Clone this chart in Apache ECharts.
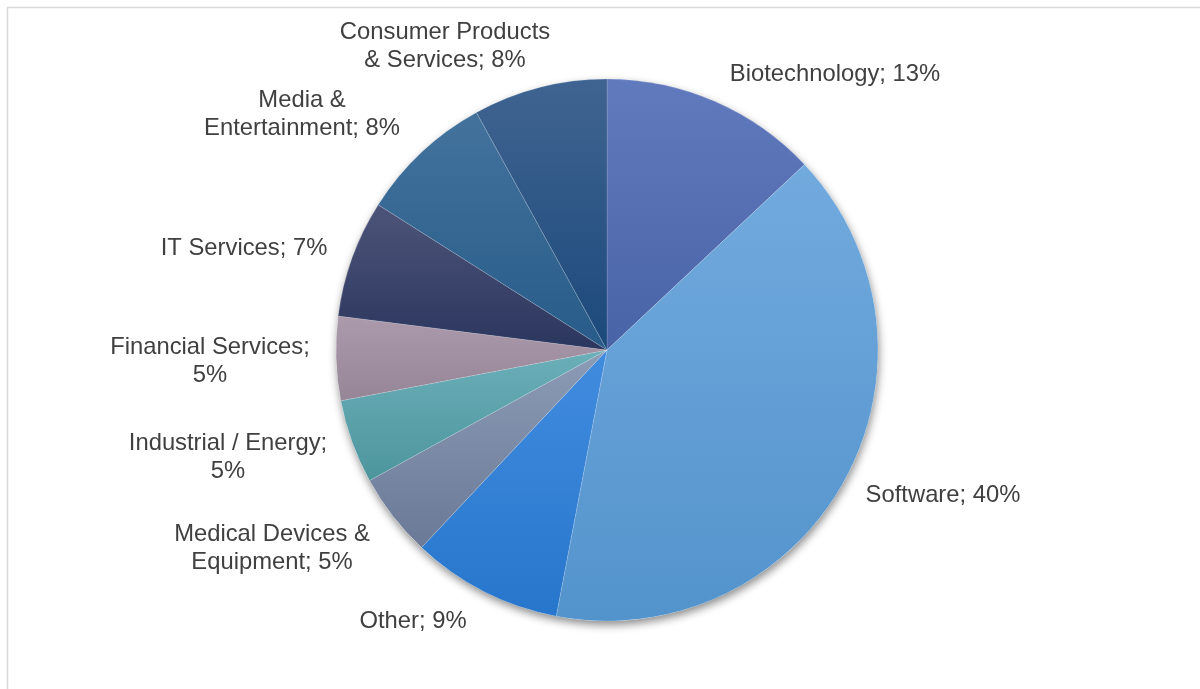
<!DOCTYPE html>
<html>
<head>
<meta charset="utf-8">
<script src="https://cdn.jsdelivr.net/npm/echarts@6/dist/echarts.min.js"></script>
<style>
  html, body { margin: 0; padding: 0; background: #fff; }
  #chart { width: 1200px; height: 689px; }
</style>
</head>
<body>
<div id="chart"></div>
<script>
// Sector breakdown, clockwise from 12 o'clock
const categories = [
  'Biotechnology', 'Software', 'Other', 'Medical Devices &\nEquipment',
  'Industrial / Energy;\n5%', 'Financial Services;\n5%', 'IT Services',
  'Media &\nEntertainment', 'Consumer Products\n& Services'
];
const shares = [13, 40, 9, 5, 5, 5, 7, 8, 8];

// Slice gradients (top colour, bottom colour)
const sliceColors = [
  ['#617abd', '#4963a7'],
  ['#72aade', '#5393cc'],
  ['#428cdf', '#2676cc'],
  ['#8c9cb6', '#6a7996'],
  ['#6bafb9', '#4d959d'],
  ['#aa9aab', '#958597'],
  ['#4d5479', '#2b365e'],
  ['#43739d', '#285b89'],
  ['#406491', '#1b497b']
];

// Label anchor points (centre of each text block)
const labelAnchors = [
  [835, 74], [943, 495], [413, 621], [272, 548], [228, 457],
  [210, 361], [244, 248], [302, 114], [445, 46]
];

function labelText(i) {
  const name = categories[i];
  // Two names already carry their value in the wrapped text
  if (name.indexOf('%') >= 0) return name;
  return name + '; ' + shares[i] + '%';
}

const chart = echarts.init(document.getElementById('chart'), null, { renderer: 'canvas' });

const pieCenter = [607, 350];
const pieRadius = 271;

chart.setOption({
  backgroundColor: '#ffffff',
  animation: false,
  graphic: [{
    type: 'rect',
    left: 5, top: 5,
    shape: { width: 1300, height: 800 },
    style: { fill: 'none', stroke: '#d9d9d9', lineWidth: 1.5 },
    silent: true,
    z: 0
  }],
  series: [
    {
      // soft drop shadow under the whole disc
      type: 'pie',
      silent: true,
      center: pieCenter,
      radius: pieRadius,
      z: 1,
      label: { show: false },
      labelLine: { show: false },
      itemStyle: {
        color: '#ffffff',
        shadowBlur: 8,
        shadowOffsetX: 1,
        shadowOffsetY: 4,
        shadowColor: 'rgba(0,0,0,0.45)'
      },
      data: [{ value: 1 }]
    },
    {
      type: 'pie',
      center: pieCenter,
      radius: pieRadius,
      startAngle: 90,
      clockwise: true,
      z: 2,
      itemStyle: { borderColor: 'rgba(255,255,255,0.25)', borderWidth: 0.6 },
      label: {
        show: true,
        position: 'outside',
        fontFamily: 'Liberation Sans, Arial, sans-serif',
        fontSize: 23.8,
        lineHeight: 28,
        color: '#404040',
        align: 'center',
        formatter: p => labelText(p.dataIndex)
      },
      labelLine: { show: false },
      labelLayout: p => ({
        x: labelAnchors[p.dataIndex][0],
        y: labelAnchors[p.dataIndex][1],
        align: 'center',
        verticalAlign: 'middle'
      }),
      data: shares.map((v, i) => ({
        value: v,
        name: categories[i],
        itemStyle: {
          color: new echarts.graphic.LinearGradient(0, 0, 0, 1, [
            { offset: 0, color: sliceColors[i][0] },
            { offset: 1, color: sliceColors[i][1] }
          ])
        }
      }))
    }
  ]
});
</script>
</body>
</html>
